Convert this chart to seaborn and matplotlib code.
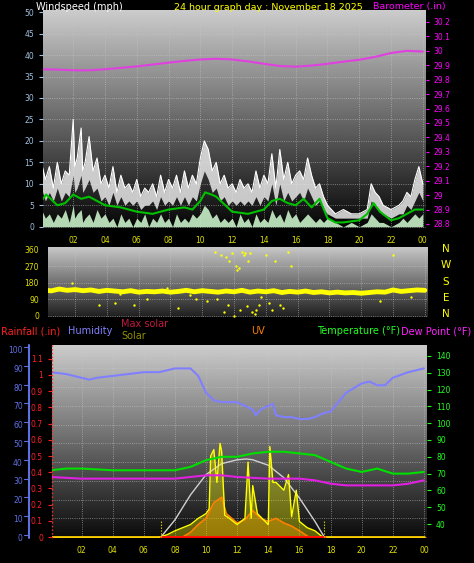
import numpy as np
import pandas as pd
import matplotlib
matplotlib.use("Agg")
import matplotlib.pyplot as plt
import seaborn as sns

sns.set_style("dark")
plt.rcParams['font.family'] = ['DejaVu Sans']

# ---------------- data ----------------
wind_hours = [0,0.25,0.5,0.75,1,1.25,1.5,1.75,2,2.1,2.25,2.5,2.6,2.75,3,3.25,3.5,3.75,4,4.25,4.5,4.75,5,5.25,5.5,5.75,6,6.25,6.5,6.75,7,7.25,7.5,7.75,8,8.25,8.5,8.75,9,9.25,9.5,9.75,10,10.25,10.5,10.75,11,11.25,11.5,11.75,12,12.25,12.5,12.75,13,13.25,13.5,13.75,14,14.25,14.5,14.75,15,15.25,15.5,15.75,16,16.25,16.5,16.75,17,17.25,17.5,17.75,18,18.5,19,19.5,20,20.5,20.75,21,21.25,21.5,22,22.5,22.75,23,23.25,23.5,23.75,24]
wind_gust = [15,11,14,9,15,10,13,12,25,14,16,23,13,15,21,13,16,10,12,9,14,8,12,9,10,8,11,7,9,8,10,7,12,8,11,9,12,8,13,9,12,10,16,20,18,13,15,10,12,9,10,8,11,9,10,8,13,9,12,10,17,9,18,11,15,10,12,13,11,16,12,9,10,7,5,3,4,3,3,4,10,8,7,5,4,5,6,8,7,11,14,10]
wind_low = [9,6,8,6,9,6,8,7,12,8,9,12,8,9,11,8,9,6,7,5,8,5,7,5,6,5,6,4,5,5,6,4,7,5,6,5,7,5,7,5,7,6,10,13,11,8,9,6,7,5,6,5,6,5,6,5,7,5,7,6,10,5,10,6,8,6,7,8,6,9,7,5,6,4,3,2,2,2,2,2,6,5,4,3,2,3,3,5,4,6,8,6]
wind_speed = [4,2,3,1,3,2,4,1,5,2,3,4,1,2,3,1,4,2,3,1,2,0,3,1,2,0,2,1,3,0,2,1,3,1,2,0,3,1,2,1,3,2,3,5,4,2,3,1,2,1,2,0,3,1,2,0,3,1,2,1,4,2,3,1,4,2,3,1,2,3,2,1,2,1,2,1,0,1,0,1,3,2,1,1,0,1,2,1,2,3,2,3]
avg_hours = [0,0.3,1,1.5,2,2.5,3,4,5,6,7,8,9,9.5,10,10.3,10.7,11,12,13,14,14.5,15,15.5,16,16.5,17,17.5,18,18.5,19,20,20.5,20.9,21.3,22,22.5,23,23.5,24]
wind_avg = [6,7.5,5,5.5,7.5,6.5,7,5,4.5,3.5,3,4,4.5,4,6,8,7.5,7,3.5,3,4,6,6.5,5.5,5,6.5,4.5,6.5,2,1,1,1.5,3,5.5,3.5,1.5,2,3,4,4]
baro_hours = [0,1,2,3,4,5,6,7,8,9,10,11,12,13,14,15,16,17,18,19,20,21,22,23,24]
baro = [29.872,29.870,29.865,29.865,29.872,29.882,29.892,29.905,29.918,29.930,29.940,29.945,29.940,29.927,29.910,29.895,29.890,29.898,29.910,29.925,29.938,29.958,29.985,30.000,29.995]

dir_hours = [0,0.5,1,1.5,2,2.5,3,3.5,4,4.5,5,5.5,6,6.5,7,7.5,8,8.5,9,9.5,10,10.5,11,11.5,12,12.5,13,13.5,14,14.5,15,15.5,16,16.5,17,17.5,18,18.5,19,19.5,20,20.5,21,21.5,22,22.5,23,23.5,24]
dir_band = [140,135,145,138,142,136,140,132,138,134,130,136,128,132,130,134,128,132,138,130,136,132,128,134,130,138,128,134,130,136,126,132,128,134,126,130,124,128,124,126,122,126,130,128,140,132,136,140,138]
scat_hours = [1.8,3.5,4.5,5.7,6.5,7.8,8.5,9.2,10.3,10.8,11.2,11.5,11.7,11.9,12.1,12.2,12.3,12.5,12.7,12.9,13.1,13.4,13.6,14.0,14.6,14.9,15.4,15.6,10.9,11.4,12.0,12.4,12.8,13.0,13.3,14.2,15.1,11.6,12.6,13.7,14.4,22.0,21.2,23.1,4.8,7.0,9.6]
scat_dir = [180,60,70,60,90,150,40,110,80,350,330,320,300,340,270,250,260,350,340,300,20,30,60,330,300,60,350,270,90,20,0,30,50,340,10,70,40,60,330,100,30,330,80,100,120,130,90]

hum_hours = [0,1,2,2.5,3,4,5,6,7,8,9,9.5,10,10.5,11,11.5,12,12.5,13,13.2,13.5,14,14.3,14.5,15,15.5,16,16.5,17,17.5,18,19,20,20.5,21,21.5,22,23,24]
humidity = [88,87,85,84,85,86,87,88,88,90,90,86,77,73,72,72,72,70,68,65,68,70,71,65,64,64,63,63,64,66,67,77,82,83,81,81,85,88,90]
temp_hours = [0,1,2,4,6,7,8,9,10,11,12,12.5,13,14,15,16,17,18,19,20,21,22,23,24]
temperature = [72,73,73,72,72,72,72,74,78,80,80,81,82,83,83,82,81,77,73,71,73,70,70,71]
dew_hours = [0,2,5,7,8,9,10,11,12,14,15,16,17,18,19,20,21,22,23,24]
dewpoint = [68,67,67,67,67,68,69,69,68,67,67,67,66,64,63,63,63,63,64,66]
maxsol_hours = [7.1,8,9,10,11,12,12.6,13,14,15,16,17,17.6]
max_solar = [0,110,270,400,470,495,500,495,460,380,250,100,0]
sol_hours = [7,7.5,8,8.5,9,9.5,10,10.2,10.3,10.5,10.7,10.9,11,11.2,11.5,12,12.5,12.7,12.9,13,13.3,13.5,14,14.1,14.3,14.5,15,15.3,15.5,15.8,16,16.5,17,17.5]
solar = [0,15,40,60,80,120,150,180,520,560,350,600,550,140,120,80,120,480,120,330,150,130,80,580,350,350,300,400,130,300,100,60,40,0]
uv_hours = [8.5,9,9.5,10,10.5,11,11.3,12,12.5,13,13.5,14,14.5,15,15.5,16,16.6]
uv = [0,30,80,120,220,255,150,90,110,170,120,100,120,90,70,40,0]
rain_hours = [0,24]
rainfall = [0,0]
sun_events = [7.1,17.6]

# ---------------- figure ----------------
W, H = 474, 563
fig = plt.figure(figsize=(W/100, H/100), dpi=100, facecolor='black')

def rect(x0, y0, x1, y1):
    return [x0/W, 1-y1/H, (x1-x0)/W, (y1-y0)/H]

def gradient(ax, xlim, ylim, top=0.82, bot=0.08):
    g = np.linspace(bot, top, 256).reshape(-1, 1)
    ax.imshow(g, extent=[xlim[0], xlim[1], ylim[0], ylim[1]], aspect='auto',
              cmap='gray', vmin=0, vmax=1, zorder=0, origin='lower')
    ax.set_xlim(xlim); ax.set_ylim(ylim)

def style(ax, ycol):
    ax.set_facecolor('black')
    for s in ax.spines.values():
        s.set_visible(False)
    ax.tick_params(axis='y', colors=ycol, labelsize=5.5, length=3, width=0.8)
    ax.tick_params(axis='x', colors='#c8c800', labelcolor='#e0e000', labelsize=5.5, length=2)
    ax.grid(True, color='#c8c8c8', linestyle=':', linewidth=0.6, alpha=0.7)

hours_ticks = [2,4,6,8,10,12,14,16,18,20,22,24]
hours_labels = ['02','04','06','08','10','12','14','16','18','20','22','00']

# ---- Panel 1: wind + baro ----
ax1 = fig.add_axes(rect(43, 10, 426, 228))
xl = (0.1, 24.2)
gradient(ax1, xl, (-0.3, 50.5), top=0.80, bot=0.02)
style(ax1, '#a0c0e0')
ax1.set_yticks(range(0, 51, 5))
ax1.set_xticks(hours_ticks); ax1.set_xticklabels(hours_labels)
ax1.fill_between(wind_hours, wind_low, wind_gust, color='#e8e8e8', alpha=0.85, lw=0, zorder=2)
sns.lineplot(x=wind_hours, y=wind_gust, ax=ax1, color='white', lw=0.8, zorder=3)
ax1.fill_between(wind_hours, 0, wind_speed, color='#c8f0c8', alpha=0.9, lw=0, zorder=4)
sns.lineplot(x=avg_hours, y=wind_avg, ax=ax1, color='#00c000', lw=1.5, zorder=5)
ax1.set_xlim(xl)
ax1b = ax1.twinx()
ax1b.set_ylim(28.772, 30.283)
sns.lineplot(x=baro_hours, y=baro, ax=ax1b, color='#e040e0', lw=1.5)
for s in ax1b.spines.values(): s.set_visible(False)
bt = np.round(np.arange(28.8, 30.21, 0.1), 1)
ax1b.set_yticks(bt)
ax1b.set_yticklabels([('%g' % v) for v in bt])
ax1b.tick_params(axis='y', colors='#ff00ff', labelsize=5.5, length=2)
ax1b.set_xlim(xl)
fig.text(36/W, 1-7/H, 'Windspeed (mph)', color='white', fontsize=7, va='center')
fig.text(268/W, 1-7/H, '24 hour graph day : November 18 2025', color='#ffff00', fontsize=6.8, va='center', ha='center')
fig.text(446/W, 1-7/H, 'Barometer (.in)', color='#ff00ff', fontsize=6.8, va='center', ha='right')

# ---- Panel 2: direction ----
ax2 = fig.add_axes(rect(48, 247, 428, 317))
xl2 = (0.3, 24.2)
gradient(ax2, xl2, (-8, 375), top=0.78, bot=0.12)
style(ax2, '#e0e000')
ax2.set_yticks([0, 90, 180, 270, 360])
ax2.set_xticks(hours_ticks); ax2.set_xticklabels([])
ax2.tick_params(axis='x', length=0)
sns.lineplot(x=dir_hours, y=dir_band, ax=ax2, color='#ffff00', lw=3.5, zorder=3)
sns.scatterplot(x=scat_hours, y=scat_dir, ax=ax2, color='#ffff00', s=3, linewidth=0, zorder=4)
ax2.set_xlim(xl2)
for lab, yy in zip(['N','W','S','E','N'], [249, 265, 282, 298, 314]):
    fig.text(446/W, 1-yy/H, lab, color='#ffff00', fontsize=7.5, ha='center', va='center')

# legend texts
fig.text(1/W, 1-331/H, 'Rainfall (.in)', color='#ff2020', fontsize=7, va='center')
fig.text(68/W, 1-331/H, 'Humidity', color='#8080ff', fontsize=7, va='center')
fig.text(121/W, 1-324/H, 'Max solar', color='#c01840', fontsize=7, va='center')
fig.text(121/W, 1-336/H, 'Solar', color='#909000', fontsize=7, va='center')
fig.text(258/W, 1-331/H, 'UV', color='#ff8000', fontsize=7, va='center', ha='center')
fig.text(317/W, 1-331/H, 'Temperature (°F)', color='#20ff20', fontsize=7, va='center')
fig.text(401/W, 1-331/H, 'Dew Point (°F)', color='#ff20ff', fontsize=7, va='center')

# ---- Panel 3 ----
ax3 = fig.add_axes(rect(52, 345, 427, 538))
xl3 = (0.1, 24.2)
hylim = (-0.5, 102.5)
gradient(ax3, xl3, hylim, top=0.80, bot=0.04)
style(ax3, '#6070e0')
ax3.set_yticks(range(0, 101, 10))
ax3.tick_params(axis='y', pad=21, length=0)
ax3.set_xticks(hours_ticks); ax3.set_xticklabels(hours_labels)
fig.add_artist(plt.Line2D([29/W, 29/W], [1-345/H, 1-538/H], color='#6070e0', lw=1.5))
for yv in range(0, 101, 10):
    yy = 535 - yv * 1.88
    fig.add_artist(plt.Line2D([24/W, 29/W], [1-yy/H, 1-yy/H], color='#6070e0', lw=0.8))
fig.add_artist(plt.Line2D([52/W, 52/W], [1-345/H, 1-538/H], color='#ff3030', lw=1, ls=':'))
sns.lineplot(x=hum_hours, y=humidity, ax=ax3, color='#8080ff', lw=1.5, zorder=5)

# hidden solar axis
axs = ax3.twinx()
axs.set_ylim(-6, 1230)
axs.axis('off')
sns.lineplot(x=maxsol_hours, y=max_solar, ax=axs, color='#d0d0d0', lw=1.0, zorder=3)
axs.fill_between(uv_hours, 0, uv, color='#ff8000', alpha=0.35, lw=0)
sns.lineplot(x=uv_hours, y=uv, ax=axs, color='#ff8000', lw=1.2, zorder=4)
axs.fill_between(sol_hours, 0, solar, color='#ffff00', alpha=0.35, lw=0)
sns.lineplot(x=sol_hours, y=solar, ax=axs, color='#ffff00', lw=1.0, zorder=5)
axs.set_xlim(xl3)

# rainfall axis (inner left)
axr = ax3.twinx()
axr.yaxis.set_ticks_position('left')
axr.set_ylim(-0.006, 1.185)
axr.set_yticks(np.round(np.arange(0, 1.11, 0.1), 1))
axr.set_yticklabels(['0','0.1','0.2','0.3','0.4','0.5','0.6','0.7','0.8','0.9','1','1.1'])
axr.tick_params(axis='y', colors='#ff2020', labelsize=5.5, length=3, left=True, right=False, labelleft=True, labelright=False)
for s in axr.spines.values(): s.set_visible(False)
sns.lineplot(x=rain_hours, y=rainfall, ax=axr, color='#ffd000', lw=2)
axr.plot([sun_events[0], sun_events[1]], [0, 0], color='#ff0000', lw=2)
for t in sun_events:
    axr.plot([t, t], [0, 0.1], color='#ffff00', lw=0.8, ls=':')
axr.set_xlim(xl3)

# temperature axis
axt = ax3.twinx()
axt.set_ylim(31.7, 146.5)
axt.set_yticks(range(40, 141, 10))
axt.tick_params(axis='y', colors='#20ff20', labelsize=5.5, length=3)
for s in axt.spines.values(): s.set_visible(False)
sns.lineplot(x=temp_hours, y=temperature, ax=axt, color='#00e000', lw=1.5)
sns.lineplot(x=dew_hours, y=dewpoint, ax=axt, color='#e020e0', lw=1.5)
axt.set_xlim(xl3)

fig.savefig('out.png', dpi=100, facecolor='black')
